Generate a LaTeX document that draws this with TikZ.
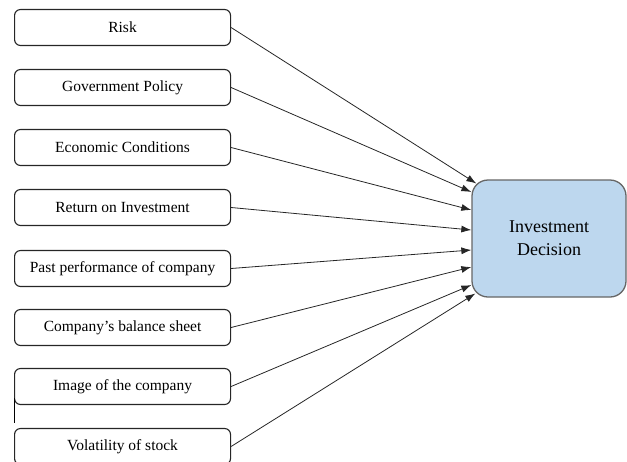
\documentclass[tikz,border=0pt]{standalone}
\usepackage{fontspec}
\setmainfont{Liberation Serif}
\newfontfamily\boxfont{Liberation Serif}
\usetikzlibrary{arrows.meta}

\definecolor{decblue}{HTML}{BDD7EE}

\tikzset{
    factor/.style={draw=black!85, line width=1.1pt, rounded corners=6pt,
        minimum width=216pt, minimum height=36pt, inner sep=0pt, anchor=west,
        font=\boxfont\fontsize{15.5}{18}\selectfont},
    decision/.style={draw=black!60, fill=decblue, line width=1.3pt, rounded corners=16pt,
        minimum width=154pt, minimum height=117pt, align=center,
        font=\boxfont\fontsize{18}{23}\selectfont},
    link/.style={-{Latex[length=10pt,width=7pt]}, line width=0.8pt, black!85},
}

\begin{document}
\begin{tikzpicture}[x=1pt, y=-1pt]
    \useasboundingbox (0,0) rectangle (627,461);
    \node[decision] (dec) at (549,238.5) {Investment\\Decision};
    % factors on the left, each one pointing at the decision box
    \foreach \i/\y/\t/\dx/\dy in {1/27.5/Risk/5/-55,
                                  2/87.5/Government Policy/0/-46.5,
                                  3/147.5/Economic Conditions/0/-28.5,
                                  4/207.5/Return on Investment/0/-8.5,
                                  5/268.5/Past performance of company/0/11.5,
                                  6/327.5/Company’s balance sheet/0/28.5,
                                  7/386.5/Image of the company/0/46.5,
                                  8/446.5/Volatility of stock/4/55}
    {%
        \node[factor] (f\i) at (14,\y) {\t};
        \draw[link] (f\i.east) -- ([shift={(\dx,\dy)}]dec.west);
    }%
    \draw[line width=0.8pt] (14,398) -- (14,423);
\end{tikzpicture}
\end{document}
